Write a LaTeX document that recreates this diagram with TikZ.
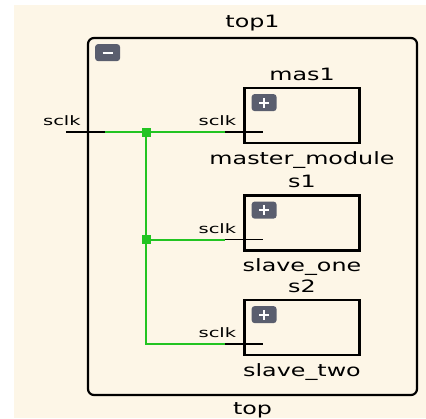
\documentclass[tikz,border=0pt]{standalone}
\usepackage{fontspec}
\newfontfamily\blkfont[FakeStretch=1.4]{DejaVu Sans}
\newfontfamily\portfont[FakeStretch=1.5]{DejaVu Sans}
\usetikzlibrary{positioning}
\definecolor{sheet}{RGB}{253,246,231}
\definecolor{wire}{RGB}{34,196,34}
\definecolor{btngray}{RGB}{90,94,110}

\begin{document}
\begin{tikzpicture}[x=1pt,y=-1pt,
    frame/.style={draw,line width=2.2pt,rounded corners=6pt,minimum width=329pt,minimum height=357pt},
    inst/.style={draw,line width=2.2pt,minimum width=115pt,minimum height=55pt,inner sep=0pt},
    blklabel/.style={font=\blkfont\fontsize{17}{17}\selectfont,inner sep=0pt},
    portlbl/.style={font=\portfont\fontsize{13}{13}\selectfont,inner sep=0pt,anchor=south east},
    stub/.style={line width=1.6pt},
    net/.style={draw=wire,line width=2pt},
    joint/.style={fill=wire,minimum size=9pt,inner sep=0pt},
    btn/.style={fill=btngray,rounded corners=3pt,minimum width=25pt,minimum height=17pt,inner sep=0pt,anchor=north west},
    minusbtn/.style={btn,path picture={\draw[white,line width=2pt]
        ([xshift=-5pt]path picture bounding box.center) -- ([xshift=5pt]path picture bounding box.center);}},
    plusbtn/.style={btn,path picture={\draw[white,line width=2pt]
        ([xshift=-5pt]path picture bounding box.center) -- ([xshift=5pt]path picture bounding box.center)
        ([yshift=-5pt]path picture bounding box.center) -- ([yshift=5pt]path picture bounding box.center);}}]
	\useasboundingbox (0,0) rectangle (426,418);
	\fill[sheet] (14,5) rectangle (426,418);

	\node[frame] (top1) at (252.5,216.5) {};
	\node[blklabel,above=6pt of top1] (top1-name) {top1};
	\node[blklabel,below=6pt of top1] (top1-type) {top};
	\node[minusbtn] (top1-btn) at ([xshift=8pt,yshift=-7pt]top1.north west) {};

	\node[inst] (mas1) at (302,115.5) {};
	\node[inst] (s1) at (302,223) {};
	\node[inst] (s2) at (302,327.5) {};

	\node[blklabel,above=6pt of mas1] (mas1-name) {mas1};
	\node[blklabel,below=7pt of mas1] (mas1-type) {master\_module};
	\node[blklabel,above=6pt of s1] (s1-name) {s1};
	\node[blklabel,below=7pt of s1] (s1-type) {slave\_one};
	\node[blklabel,above=6pt of s2] (s2-name) {s2};
	\node[blklabel,below=7pt of s2] (s2-type) {slave\_two};

	% ports of the instances
	\foreach \b in {mas1,s1,s2}{
		\node[plusbtn] (\b-btn) at ([xshift=8pt,yshift=-7pt]\b.north west) {};
		\coordinate (\b-sclk) at ([yshift=12pt]\b.south west);
	}

	% port of top1
	\coordinate (top-sclk) at (top1.west |- mas1-sclk);
	\coordinate (bus) at (146,0);

	\draw[net] ([xshift=18pt]top-sclk) -- ([xshift=-18pt]mas1-sclk);
	\draw[net] (bus |- mas1-sclk) -- (bus |- s2-sclk) -- ([xshift=-18pt]s2-sclk);
	\draw[net] (bus |- s1-sclk) -- ([xshift=-18pt]s1-sclk);
	\node[joint] (j1) at (bus |- mas1-sclk) {};
	\node[joint] (j2) at (bus |- s1-sclk) {};

	\foreach \b in {mas1,s1,s2}{
		\draw[stub] ([xshift=-18pt]\b-sclk) -- ([xshift=20pt]\b-sclk);
		\node[portlbl] at ([xshift=-7pt,yshift=6pt]\b-sclk) {sclk};
	}
	\draw[stub] ([xshift=-21pt]top-sclk) -- ([xshift=18pt]top-sclk);
	\node[portlbl] (top-sclk-name) at ([xshift=-6pt,yshift=6pt]top-sclk) {sclk};

\end{tikzpicture}
\end{document}
